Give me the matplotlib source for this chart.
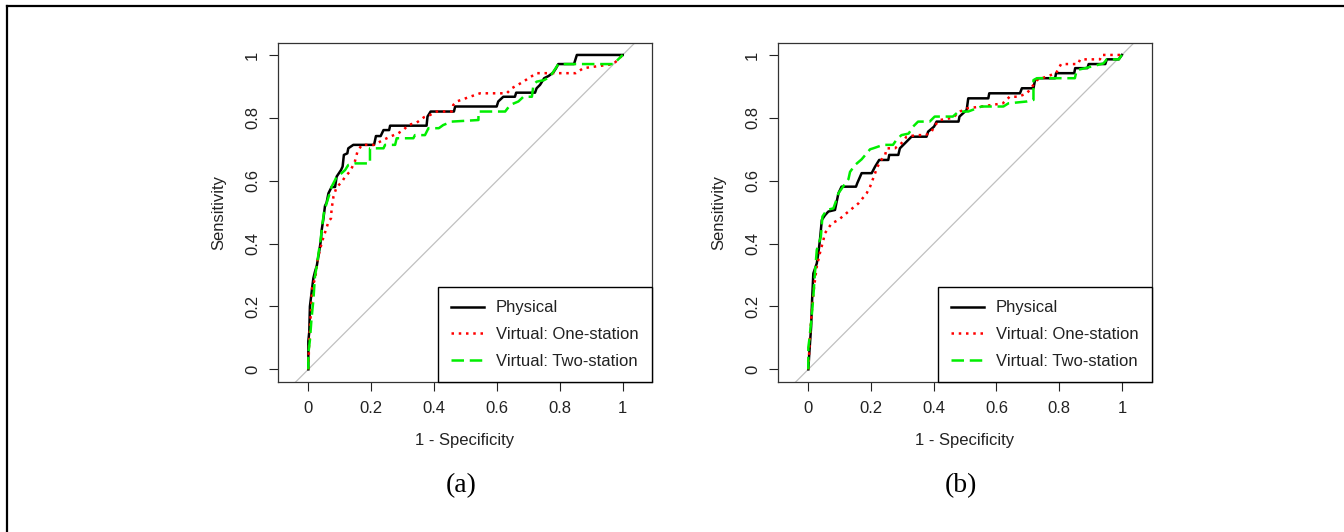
import matplotlib
matplotlib.use("Agg")
import matplotlib.pyplot as plt
from matplotlib.lines import Line2D

plt.rcParams['font.family'] = ['Liberation Sans', 'DejaVu Sans']

# ROC curves: (1 - specificity, sensitivity)
a_physical = [(0, 0), (0, 0.09), (0.003, 0.12), (0.005, 0.20), (0.011, 0.25), (0.016, 0.29),
              (0.021, 0.31), (0.027, 0.33), (0.032, 0.36), (0.040, 0.41), (0.042, 0.44),
              (0.048, 0.48), (0.053, 0.52), (0.058, 0.53), (0.064, 0.56), (0.074, 0.58),
              (0.085, 0.58), (0.090, 0.613), (0.104, 0.634), (0.109, 0.645), (0.113, 0.682),
              (0.124, 0.687), (0.127, 0.703), (0.143, 0.714), (0.209, 0.714), (0.215, 0.742),
              (0.230, 0.742), (0.239, 0.761), (0.257, 0.761), (0.260, 0.775), (0.376, 0.775),
              (0.379, 0.804), (0.389, 0.820), (0.463, 0.820), (0.467, 0.836), (0.599, 0.836),
              (0.604, 0.852), (0.620, 0.867), (0.657, 0.867), (0.661, 0.880), (0.721, 0.880),
              (0.726, 0.894), (0.737, 0.905), (0.750, 0.926), (0.764, 0.933), (0.779, 0.944),
              (0.788, 0.958), (0.795, 0.971), (0.845, 0.971), (0.854, 1.0), (1.0, 1.0)]
a_one_station = [(0, 0), (0.003, 0.10), (0.008, 0.18), (0.012, 0.26), (0.022, 0.29), (0.027, 0.33),
                 (0.032, 0.36), (0.042, 0.40), (0.048, 0.42), (0.058, 0.45), (0.064, 0.47),
                 (0.072, 0.48), (0.074, 0.51), (0.080, 0.55), (0.090, 0.58), (0.106, 0.595),
                 (0.117, 0.613), (0.133, 0.630), (0.148, 0.661), (0.156, 0.692), (0.170, 0.714),
                 (0.209, 0.714), (0.239, 0.730), (0.260, 0.740), (0.286, 0.751), (0.302, 0.761),
                 (0.318, 0.777), (0.345, 0.785), (0.368, 0.802), (0.387, 0.809), (0.408, 0.820),
                 (0.456, 0.820), (0.461, 0.841), (0.472, 0.852), (0.514, 0.867), (0.546, 0.878),
                 (0.631, 0.878), (0.647, 0.894), (0.684, 0.915), (0.700, 0.926), (0.726, 0.942),
                 (0.850, 0.942), (0.875, 0.958), (0.970, 0.971), (1.0, 1.0)]
a_two_station = [(0, 0), (0, 0.05), (0.005, 0.093), (0.010, 0.16), (0.016, 0.22), (0.021, 0.295),
                 (0.027, 0.33), (0.034, 0.38), (0.040, 0.42), (0.045, 0.464), (0.050, 0.50),
                 (0.058, 0.528), (0.068, 0.56), (0.074, 0.581), (0.085, 0.602), (0.090, 0.613),
                 (0.106, 0.624), (0.117, 0.634), (0.127, 0.650), (0.148, 0.655), (0.196, 0.655),
                 (0.196, 0.703), (0.239, 0.703), (0.244, 0.714), (0.276, 0.714), (0.281, 0.735),
                 (0.334, 0.735), (0.339, 0.745), (0.371, 0.745), (0.382, 0.767), (0.415, 0.767),
                 (0.429, 0.777), (0.456, 0.788), (0.541, 0.793), (0.541, 0.820), (0.626, 0.820),
                 (0.642, 0.841), (0.668, 0.852), (0.684, 0.867), (0.711, 0.867), (0.716, 0.905),
                 (0.726, 0.915), (0.750, 0.920), (0.769, 0.931), (0.790, 0.963), (0.795, 0.971),
                 (0.970, 0.971), (1.0, 1.0)]

b_physical = [(0, 0), (0.003, 0.05), (0.009, 0.136), (0.012, 0.22), (0.016, 0.305), (0.027, 0.337),
              (0.032, 0.37), (0.037, 0.411), (0.043, 0.475), (0.053, 0.49), (0.064, 0.502),
              (0.085, 0.507), (0.096, 0.560), (0.106, 0.581), (0.152, 0.581), (0.156, 0.592),
              (0.170, 0.624), (0.202, 0.624), (0.213, 0.645), (0.226, 0.666), (0.255, 0.666),
              (0.258, 0.682), (0.287, 0.682), (0.292, 0.703), (0.308, 0.719), (0.329, 0.740),
              (0.377, 0.740), (0.382, 0.756), (0.401, 0.772), (0.409, 0.788), (0.479, 0.788),
              (0.482, 0.804), (0.505, 0.825), (0.510, 0.862), (0.574, 0.862), (0.577, 0.878),
              (0.675, 0.878), (0.681, 0.894), (0.718, 0.894), (0.723, 0.920), (0.734, 0.926),
              (0.787, 0.926), (0.790, 0.942), (0.848, 0.942), (0.851, 0.958), (0.890, 0.958),
              (0.894, 0.971), (0.947, 0.971), (0.952, 0.986), (0.990, 0.986), (1.0, 1.0)]
b_one_station = [(0, 0), (0.003, 0.06), (0.005, 0.104), (0.010, 0.17), (0.016, 0.242), (0.022, 0.29),
                 (0.027, 0.327), (0.037, 0.37), (0.048, 0.411), (0.053, 0.433), (0.064, 0.449),
                 (0.074, 0.464), (0.096, 0.475), (0.128, 0.502), (0.160, 0.528), (0.186, 0.560),
                 (0.197, 0.581), (0.213, 0.624), (0.218, 0.639), (0.229, 0.661), (0.245, 0.682),
                 (0.250, 0.703), (0.276, 0.703), (0.297, 0.719), (0.313, 0.740), (0.345, 0.745),
                 (0.375, 0.745), (0.393, 0.756), (0.404, 0.777), (0.420, 0.793), (0.460, 0.800),
                 (0.484, 0.820), (0.505, 0.830), (0.552, 0.836), (0.620, 0.846), (0.642, 0.867),
                 (0.670, 0.867), (0.697, 0.878), (0.710, 0.894), (0.729, 0.920), (0.745, 0.926),
                 (0.790, 0.942), (0.806, 0.971), (0.860, 0.971), (0.867, 0.986), (0.930, 0.986),
                 (0.935, 1.0), (1.0, 1.0)]
b_two_station = [(0, 0), (0, 0.07), (0.003, 0.093), (0.010, 0.16), (0.016, 0.231), (0.021, 0.305),
                 (0.027, 0.38), (0.040, 0.422), (0.045, 0.486), (0.059, 0.507), (0.080, 0.512),
                 (0.090, 0.54), (0.096, 0.56), (0.117, 0.590), (0.128, 0.605), (0.133, 0.628),
                 (0.149, 0.650), (0.170, 0.668), (0.197, 0.700), (0.207, 0.703), (0.239, 0.714),
                 (0.270, 0.714), (0.281, 0.730), (0.297, 0.745), (0.320, 0.750), (0.334, 0.772),
                 (0.350, 0.788), (0.387, 0.788), (0.403, 0.804), (0.461, 0.804), (0.479, 0.820),
                 (0.510, 0.820), (0.552, 0.836), (0.622, 0.836), (0.638, 0.846), (0.697, 0.852),
                 (0.718, 0.857), (0.718, 0.920), (0.729, 0.926), (0.850, 0.926), (0.856, 0.952),
                 (0.883, 0.958), (0.941, 0.973), (0.952, 0.986), (0.990, 0.986), (1.0, 1.0)]

labels = ["Physical", "Virtual: One-station", "Virtual: Two-station"]
ticks = [0, 0.2, 0.4, 0.6, 0.8, 1]
tick_labels = ["0", "0.2", "0.4", "0.6", "0.8", "1"]
panel_names = ["(a)", "(b)"]

W, H = 1344, 532
fig = plt.figure(figsize=(W / 100, H / 100), dpi=100)

# border of the figure (only top and left edges show)
fig.add_artist(Line2D([7 / W, 1], [1 - 6 / H, 1 - 6 / H], transform=fig.transFigure, color="black", lw=1.6))
fig.add_artist(Line2D([7 / W, 7 / W], [0, 1 - 6 / H], transform=fig.transFigure, color="black", lw=1.6))

panels = [
    (278, (-0.0965, 1.093), [a_physical, a_one_station, a_two_station], panel_names[0]),
    (778, (-0.0967, 1.096), [b_physical, b_one_station, b_two_station], panel_names[1]),
]

styles = [
    dict(color="black", lw=1.8, ls="-"),
    dict(color="#ff0000", lw=1.8, dashes=(1, 1.9)),
    dict(color="#00ee00", lw=1.8, dashes=(5, 2.3)),
]

for left, xlim, curves, name in panels:
    ax = fig.add_axes([left / W, 1 - 382 / H, 374 / W, 339 / H])
    ax.axline((0, 0), (1, 1), color="#c0c0c0", lw=0.9, zorder=1)
    for curve, st, lab in zip(curves, styles, labels):
        xs = [p[0] for p in curve]
        ys = [p[1] for p in curve]
        ax.plot(xs, ys, label=lab, zorder=3, **st)
    ax.set_xlim(*xlim)
    ax.set_ylim(-0.0403, 1.038)
    ax.set_xticks(ticks)
    ax.set_xticklabels(tick_labels)
    ax.set_yticks(ticks)
    ax.set_yticklabels(tick_labels, rotation=90, va="center")
    ax.tick_params(direction="out", length=6.5, width=0.8, labelsize=12, colors="#222222")
    ax.tick_params(axis="x", pad=7.5)
    ax.tick_params(axis="y", pad=6.5)
    for sp in ax.spines.values():
        sp.set_color("#333333")
        sp.set_linewidth(0.9)
    ax.set_xlabel("1 - Specificity", fontsize=12, color="#222222")
    ax.set_ylabel("Sensitivity", fontsize=12, color="#222222")
    ax.xaxis.set_label_coords(0.5, -0.15)
    ax.yaxis.set_label_coords(-0.137, 0.5)
    leg = ax.legend(loc="lower right", bbox_to_anchor=(1, 0), borderaxespad=0, frameon=True,
                    fancybox=False, edgecolor="black", framealpha=1, fontsize=12,
                    handlelength=1.95, handletextpad=0.75, labelspacing=0.7, borderpad=0.8)
    leg.get_frame().set_linewidth(1.0)
    for t in leg.get_texts():
        t.set_color("#222222")
    ax.text(0.49, -0.307, name, transform=ax.transAxes, ha="center", va="center",
            fontsize=20, family=["Liberation Serif", "DejaVu Serif"])

fig.savefig("out.png", dpi=100)
